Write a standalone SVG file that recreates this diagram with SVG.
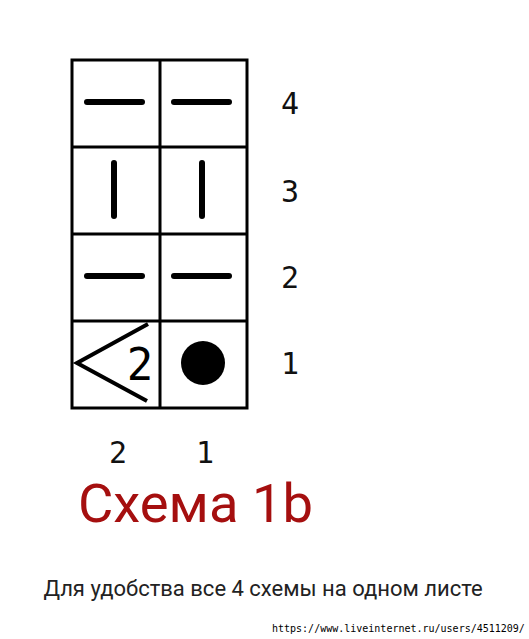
<svg xmlns="http://www.w3.org/2000/svg" width="529" height="639" viewBox="0 0 529 639">
<style>
.grid{fill:none;stroke:#000;stroke-width:3}
.bar{stroke:#000;stroke-width:6;stroke-linecap:round}
.num{font-family:"DejaVu Sans Mono","Liberation Mono",monospace;font-size:30px;fill:#111}
.title{font-family:Roboto,"Liberation Sans",sans-serif;font-size:53px;fill:#a50f0f}
.note{font-family:Roboto,"Liberation Sans",sans-serif;font-size:22px;fill:#222}
.url{font-family:"DejaVu Sans Mono","Liberation Mono",monospace;font-size:10px;fill:#000}
</style>
<rect width="529" height="639" fill="#fff"/>
<g id="grid">
<rect class="grid" x="72" y="60" width="175" height="348"/>
<line class="grid" x1="160" y1="60" x2="160" y2="408"/>
<line class="grid" x1="72" y1="147" x2="247" y2="147"/>
<line class="grid" x1="72" y1="234" x2="247" y2="234"/>
<line class="grid" x1="72" y1="321" x2="247" y2="321"/>
</g>
<g id="row4">
<line class="bar" x1="87" y1="102" x2="142" y2="102"/>
<line class="bar" x1="174" y1="102" x2="229" y2="102"/>
</g>
<g id="row3">
<line class="bar" x1="114" y1="163" x2="114" y2="216"/>
<line class="bar" x1="202" y1="163" x2="202" y2="216"/>
</g>
<g id="row2">
<line class="bar" x1="87" y1="276" x2="142" y2="276"/>
<line class="bar" x1="174" y1="276" x2="229" y2="276"/>
</g>
<g id="row1">
<polyline points="148,324 77,363 147,401" fill="none" stroke="#000" stroke-width="4"/>
<text x="140" y="380" text-anchor="middle" style="font-family:'DejaVu Sans Mono','Liberation Mono',monospace;font-size:44px;fill:#000">2</text>
<circle cx="203" cy="363" r="22" fill="#000"/>
</g>
<g id="row-labels">
<text class="num" x="290" y="114" text-anchor="middle">4</text>
<text class="num" x="290" y="202" text-anchor="middle">3</text>
<text class="num" x="290" y="288" text-anchor="middle">2</text>
<text class="num" x="290" y="374" text-anchor="middle">1</text>
</g>
<g id="col-labels">
<text class="num" x="118" y="463" text-anchor="middle">2</text>
<text class="num" x="205" y="463" text-anchor="middle">1</text>
</g>
<text class="title" x="78" y="522" textLength="235" lengthAdjust="spacingAndGlyphs">Схема 1b</text>
<text class="note" x="263" y="596" text-anchor="middle">Для удобства все 4 схемы на одном листе</text>
<text class="url" x="272" y="632">https://www.liveinternet.ru/users/4511209/</text>
</svg>
